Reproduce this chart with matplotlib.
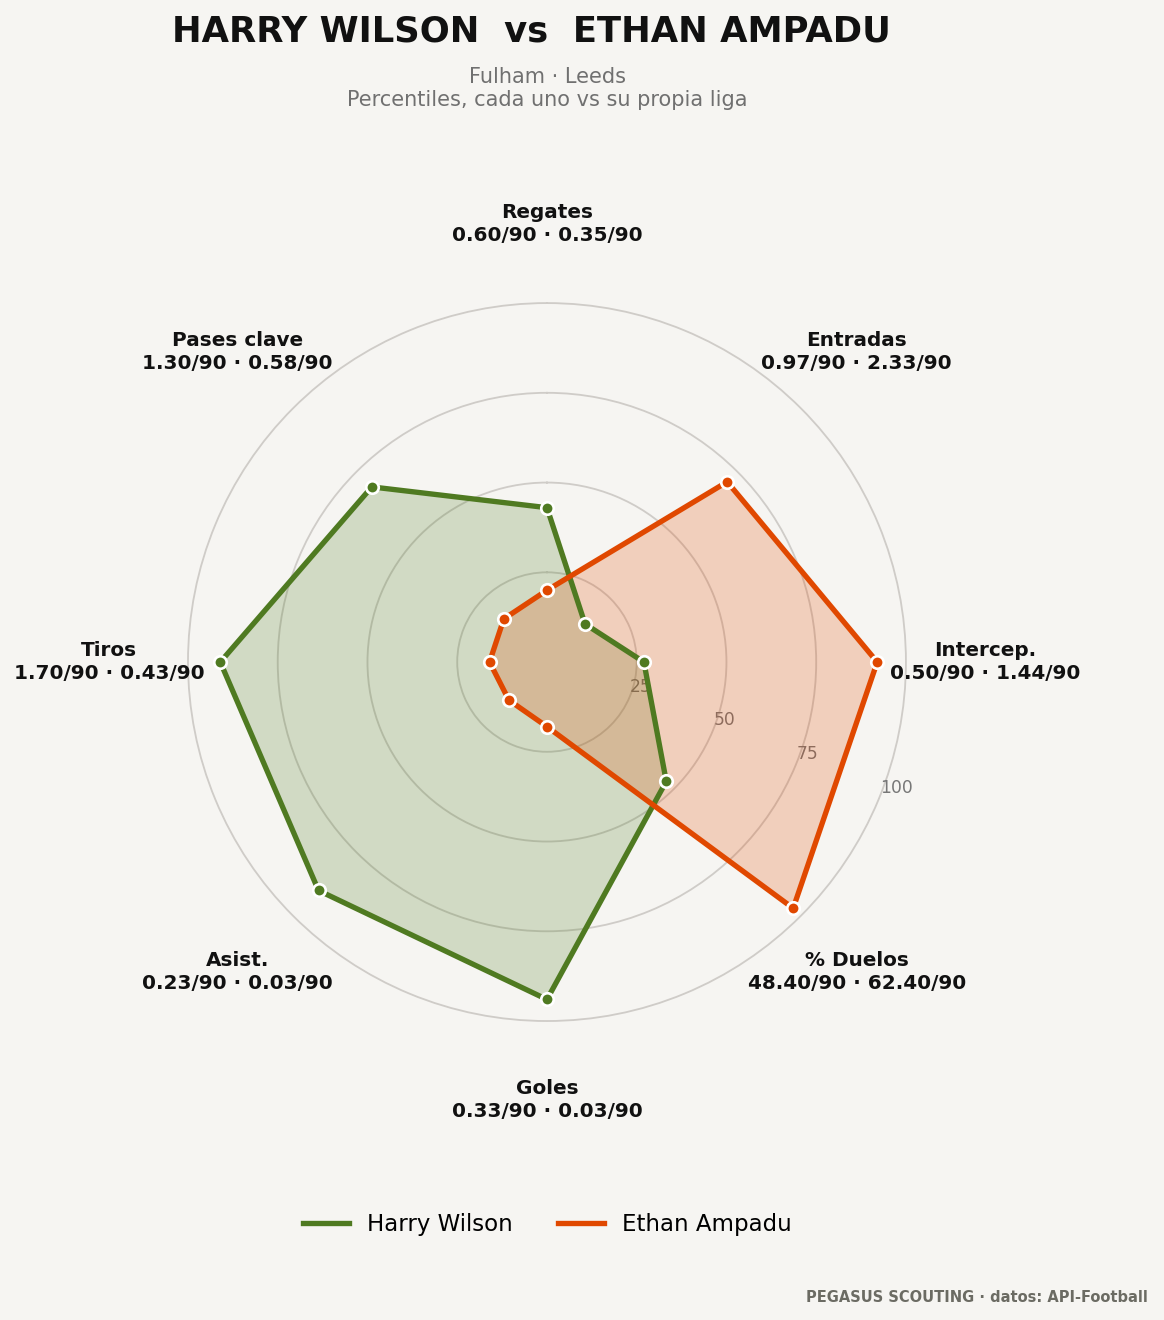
import numpy as np
import matplotlib.pyplot as plt

# Radar data: percentiles (0-100) and per-90 values
categories = ["Regates", "Entradas", "Intercep.", "% Duelos",
              "Goles", "Asist.", "Tiros", "Pases clave"]
wilson_pct = [43, 15, 27, 47, 94, 90, 91, 69]
ampadu_pct = [20, 71, 92, 97, 18, 15, 16, 17]
wilson_p90 = ["0.60", "0.97", "0.50", "48.40", "0.33", "0.23", "1.70", "1.30"]
ampadu_p90 = ["0.35", "2.33", "1.44", "62.40", "0.03", "0.03", "0.43", "0.58"]
ring_ticks = [25, 50, 75, 100]

BG = "#f6f5f2"
GREEN = "#4f7a21"
ORANGE = "#e04800"

n = len(categories)
angles = np.linspace(0, 2 * np.pi, n, endpoint=False)
closed = np.append(angles, angles[0])

fig = plt.figure(figsize=(9.7, 11), dpi=120, facecolor=BG)
ax = fig.add_axes([0.1615, 0.2265, 0.6168, 0.5439], projection="polar")
ax.set_facecolor(BG)
ax.set_theta_zero_location("N")
ax.set_theta_direction(-1)
ax.set_ylim(0, 100)

for vals, col, name in [(wilson_pct, GREEN, "Harry Wilson"),
                        (ampadu_pct, ORANGE, "Ethan Ampadu")]:
    v = np.append(vals, vals[0])
    ax.fill(closed, v, color=col, alpha=0.22, zorder=2)
    ax.plot(closed, v, color=col, lw=3.2, zorder=3, label=name)
    ax.plot(angles, vals, "o", color=col, ms=7.5, mec="white", mew=1.6,
            zorder=4)

ax.set_xticks(angles)
ax.set_xticklabels([])
ax.xaxis.grid(False)
ax.set_yticks(ring_ticks)
ax.set_yticklabels([str(t) for t in ring_ticks], color="#777777", fontsize=10.3)
ax.set_rlabel_position(112)
ax.yaxis.grid(True, color="#cfccc8", lw=1.1)
for gl in ax.yaxis.get_gridlines():
    gl.set_clip_on(False)
ax.spines["polar"].set_visible(False)

for a, cat, w, e in zip(angles, categories, wilson_p90, ampadu_p90):
    ax.text(a, 122, f"{cat}\n{w}/90 · {e}/90", ha="center", va="center",
            fontsize=12, fontweight="bold", color="#111111", linespacing=1.25)

fig.text(0.4562, 1 - 31 / 1320, "HARRY WILSON  vs  ETHAN AMPADU",
         ha="center", va="center", fontsize=21.25, fontweight="bold",
         color="#111111")
fig.text(0.47, 1 - 77 / 1320, "Fulham · Leeds", ha="center", va="center",
         fontsize=12.5, color="#707070")
fig.text(0.47, 1 - 100 / 1320, "Percentiles, cada uno vs su propia liga",
         ha="center", va="center", fontsize=12.5, color="#707070")

fig.legend(loc="center", bbox_to_anchor=(0.4705, 1 - 1224 / 1320), ncol=2,
           frameon=False, fontsize=13.7, columnspacing=2.0)

fig.text(0.9865, 1 - 1297 / 1320, "PEGASUS SCOUTING · datos: API-Football",
         ha="right", va="center", fontsize=8.75, fontweight="bold",
         color="#6b6b63")

fig.savefig("out.png", dpi=120, facecolor=BG)
